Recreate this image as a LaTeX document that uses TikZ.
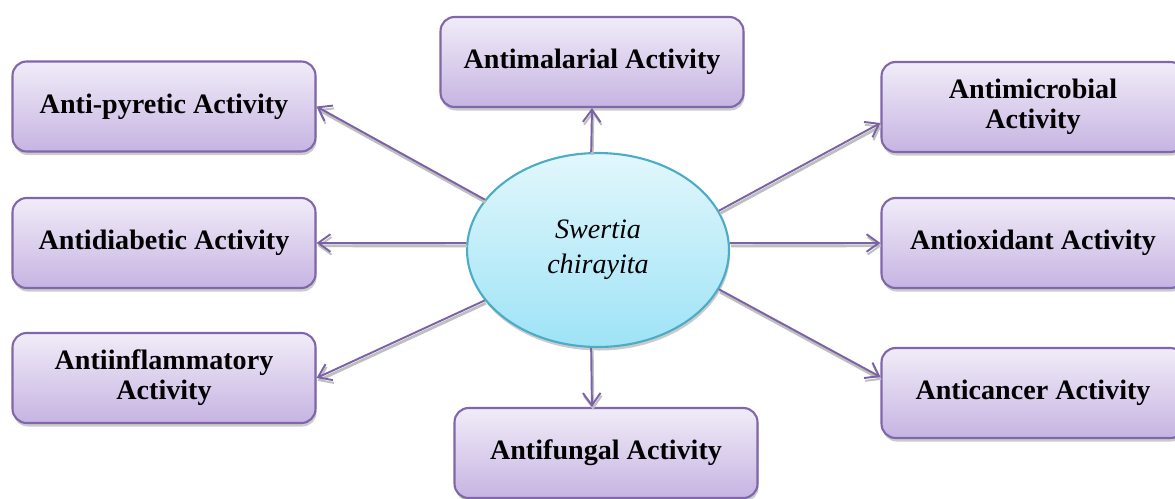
\documentclass[tikz,border=0pt]{standalone}
\usepackage{fontspec}
\setmainfont{Liberation Serif}
\usetikzlibrary{arrows.meta,shapes.geometric,shadows}
\definecolor{boxline}{HTML}{8066AA}
\definecolor{boxtop}{HTML}{F1ECF8}
\definecolor{boxbottom}{HTML}{C6B4E2}
\definecolor{plantline}{HTML}{4BACC6}
\definecolor{planttop}{HTML}{E2F7FC}
\definecolor{plantbottom}{HTML}{9EE3F6}
\definecolor{arrowcol}{HTML}{7B62A6}
\tikzset{
    %Define standard arrow tip
    >={Straight Barb[length=7pt,width=10pt,line width=1.1pt]},
    %Define style for activity boxes
    activity/.style={
           rectangle,
           rounded corners=8pt,
           draw=boxline, line width=1.2pt,
           top color=boxtop, bottom color=boxbottom,
           minimum width=6.06cm,
           minimum height=1.8cm,
           font=\fontsize{16}{17}\selectfont\bfseries,
           align=center,
           drop shadow={shadow xshift=0.6pt, shadow yshift=-2pt,
                        fill=black!45, opacity=.45}
           },
    %Define style for the plant
    plant/.style={
           ellipse,
           draw=plantline, line width=1.2pt,
           top color=planttop, bottom color=plantbottom,
           minimum width=5.24cm,
           minimum height=3.88cm,
           inner sep=0pt,
           font=\fontsize{16}{20}\selectfont\itshape,
           align=center,
           drop shadow={shadow xshift=0.6pt, shadow yshift=-2pt,
                        fill=black!45, opacity=.45}
           },
    % Define arrow style
    pil/.style={
           ->,
           draw=arrowcol,
           line width=1.1pt,
           preaction={draw=black!25, line width=1.6pt,
                      transform canvas={xshift=0.6pt,yshift=-1.6pt}}}
}
\begin{document}
\begin{tikzpicture}[x=0.02cm,y=-0.02cm]
\useasboundingbox (0,0) rectangle (1175,498);
\node[plant](sc) at (598,250){Swertia\\chirayita};
\node[activity](malarial) at (592,62){Antimalarial Activity};
\node[activity](pyretic) at (164,106.5){Anti-pyretic Activity};
\node[activity](diabetic) at (164,243){Antidiabetic Activity};
\node[activity](inflam) at (164,378){Antiinflammatory\\Activity};
\node[activity](microbial) at (1033,107){Antimicrobial\\Activity};
\node[activity](oxidant) at (1033,243){Antioxidant Activity};
\node[activity](cancer) at (1033,393){Anticancer Activity};
\node[activity](fungal) at (606,453){Antifungal Activity};
 \path
    (sc.94) edge[pil] (malarial.south)
    (sc.156) edge[pil] (pyretic.east)
    (sc.177) edge[pil] (diabetic.east)
    (sc.204) edge[pil] (inflam.east)
    (sc.18) edge[pil] (microbial.186)
    (sc.3) edge[pil] (oxidant.west)
    (sc.342) edge[pil] (cancer.174)
    (sc.266) edge[pil] (fungal.107);
\end{tikzpicture}
\end{document}
